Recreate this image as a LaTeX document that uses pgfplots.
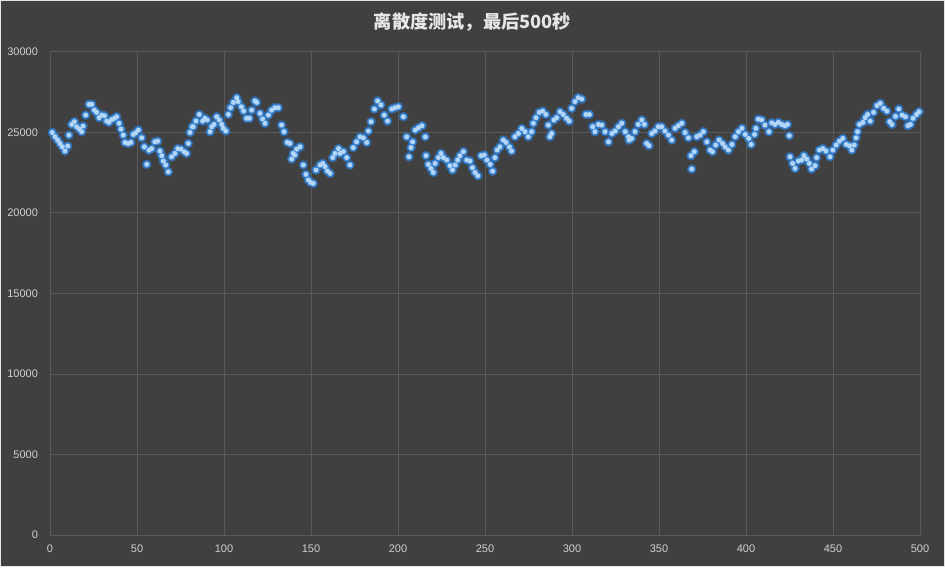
\documentclass[border=0pt]{standalone}
\usepackage{pgfplots}
\pgfplotsset{compat=1.18}
\usepackage{pgfplotstable}
\usepackage{fontspec}
\setmainfont{Liberation Sans}
\newfontfamily\cjk{Noto Sans CJK SC}
\definecolor{bg}{HTML}{404040}
\definecolor{gridc}{HTML}{5A5A5A}
\definecolor{tickc}{HTML}{D0D0D0}
\definecolor{titlec}{HTML}{E6E6E6}
\definecolor{glowout}{HTML}{35659A}
\definecolor{glowin}{HTML}{3A86D6}
\definecolor{core}{HTML}{B4D6F4}
\pgfplotstableread{
x y
1.3 25000
2.9 24740
4.4 24530
5.7 24320
7.1 24110
8.6 23850
10.2 24160
10.9 24840
12.5 25500
14.0 25670
15.3 25360
16.9 25210
18.2 25050
19.0 25400
20.5 26080
22.4 26750
24.0 26750
25.5 26390
26.8 26250
28.2 25920
29.7 26080
31.3 26040
32.6 25710
33.9 25630
35.4 25800
37.0 25880
38.3 25980
39.7 25570
40.8 25210
42.1 24840
43.1 24380
44.9 24320
46.5 24380
47.9 24880
49.2 24980
50.8 25150
52.7 24670
54.2 24110
55.6 23020
56.9 23900
58.4 24000
60.3 24420
61.9 24460
63.2 23850
64.2 23560
65.1 23230
66.5 22980
68.0 22560
69.9 23490
71.8 23700
73.4 24000
75.3 23970
77.2 23800
78.5 23700
79.5 24320
80.5 25000
81.8 25360
82.3 25360
83.9 25710
85.8 26120
87.7 25710
89.0 25880
90.3 25780
92.0 25050
93.0 25360
94.3 25500
95.8 25980
97.3 25780
98.7 25500
99.6 25260
101.1 25090
102.5 26120
103.8 26540
105.4 26870
107.3 27160
108.1 26920
110.0 26600
111.3 26330
113.0 25880
114.6 25880
115.9 26390
117.8 26960
118.8 26870
120.7 26190
122.2 25840
123.6 25570
125.5 26080
127.4 26390
129.3 26540
131.2 26540
133.1 25460
134.5 25050
136.4 24380
137.9 24320
138.9 23350
139.8 23700
140.7 23600
141.8 23970
143.7 24110
145.6 22980
147.1 22400
148.5 22050
149.8 21900
151.3 21840
152.9 22670
155.2 22980
156.7 23080
158.1 22880
159.4 22610
161.0 22460
162.5 23440
163.9 23700
165.8 24000
166.7 23700
168.6 23810
170.5 23440
172.4 22980
174.3 24060
176.2 24420
178.2 24730
180.1 24670
182.0 24380
183.0 25090
184.5 25670
186.4 26460
188.3 26960
190.2 26710
192.1 26080
194.0 25710
196.4 26460
198.3 26540
200.2 26600
203.1 25980
205.0 24730
206.3 23490
207.5 24060
208.4 24420
209.9 25150
211.8 25300
213.8 25420
215.7 24730
216.1 23560
217.4 23020
219.0 22770
220.3 22520
221.3 23080
223.2 23440
224.7 23700
226.1 23440
228.0 23290
229.9 22940
231.3 22670
232.8 22980
234.3 23290
235.6 23560
237.6 23810
239.5 23290
241.4 23230
242.8 22820
244.3 22520
245.9 22310
247.8 23560
249.6 23600
251.1 23290
253.0 23020
254.4 22600
255.7 23440
257.0 23910
258.6 24110
260.5 24530
262.1 24380
264.0 24110
265.3 23850
267.2 24740
269.2 24940
271.1 25250
273.0 25050
274.9 24740
276.8 25050
277.8 25570
279.3 25920
281.2 26250
283.1 26330
285.0 26120
286.4 25460
287.3 24740
288.3 24940
289.6 25780
291.2 25920
293.1 26290
295.0 26120
296.9 25880
298.4 25710
299.8 26500
301.7 26920
303.6 27160
305.6 27080
308.0 26120
310.0 26120
311.9 25360
313.2 25050
315.2 25500
317.1 25460
319.0 25050
321.0 24420
322.9 24940
324.8 25090
326.7 25360
328.6 25570
330.6 25050
332.5 24740
332.8 24530
334.3 24630
336.2 25050
338.1 25500
340.1 25780
341.6 25500
342.9 24320
344.3 24180
345.8 24940
347.7 25090
349.6 25360
351.5 25360
353.4 25090
355.4 24840
357.3 24530
359.2 25260
361.1 25420
363.1 25570
365.0 25000
366.9 24670
368.4 23560
368.8 22730
370.3 23810
371.7 24740
373.6 24840
375.5 25050
377.5 24420
379.4 23910
380.7 23810
382.6 24220
384.5 24530
386.5 24320
388.0 24110
389.9 23910
391.9 24260
393.8 24740
395.7 25050
397.7 25260
399.6 24880
401.5 24630
403.0 24260
404.9 24880
405.7 25260
407.1 25830
409.0 25780
410.9 25460
413.2 25050
414.8 25600
416.7 25500
418.6 25630
420.5 25500
422.4 25420
423.8 25500
424.9 24800
425.3 23490
426.8 23080
428.2 22770
430.1 23230
432.0 23290
433.3 23560
434.9 23350
436.4 23080
437.7 22730
439.7 22940
440.6 23440
442.2 23910
444.1 24000
446.0 23850
448.3 23490
449.9 23910
451.8 24220
453.7 24460
455.6 24630
457.6 24260
459.5 24180
460.8 23910
462.2 24220
463.3 24670
464.1 25050
465.2 25500
467.2 25630
468.5 25920
469.9 26120
471.4 25710
473.3 26250
475.3 26670
477.2 26810
479.1 26500
481.0 26330
482.6 25670
483.9 25500
485.9 26000
487.8 26460
489.7 26080
491.6 25980
493.0 25420
494.5 25500
496.0 25880
498.0 26120
499.5 26290
}\datatable
\begin{document}
\begin{tikzpicture}[x=1pt,y=1pt]
\fill[bg] (0,0) rectangle (472.5,283.5);
\draw[white!80!gray,line width=0.5pt] (0.25,0.25) rectangle (472.25,283.25);
\node[font=\cjk\bfseries\fontsize{9.1}{11}\selectfont,text=titlec] at (236.25,272.5) {离散度测试，最后500秒};
\begin{axis}[
  at={(25pt,16pt)}, anchor=origin,
  scale only axis, width=435pt, height=241.5pt,
  xmin=0, xmax=500, ymin=0, ymax=30000,
  xtick distance=50, ytick distance=5000,
  grid=major, grid style={gridc, line width=0.5pt},
  axis line style={draw=none},
  major tick length=0pt,
  scaled y ticks=false,
  tick label style={font=\fontsize{5.5}{6}\selectfont, text=tickc},
  /pgf/number format/assume math mode=true,
  /pgf/number format/1000 sep={},
  yticklabel style={xshift=-2.5pt},
  xticklabel style={yshift=-1.5pt},
  clip=false,
]
\addplot[glowout, only marks, mark=*, mark size=2.2pt, mark options={solid, fill=glowout, draw=none}] table[x=x,y=y] {\datatable};
\addplot[glowin, only marks, mark=*, mark size=1.6pt, mark options={solid, fill=glowin, draw=none}] table[x=x,y=y] {\datatable};
\addplot[core, only marks, mark=*, mark size=1.0pt, mark options={solid, fill=core, draw=none}] table[x=x,y=y] {\datatable};
\end{axis}
\end{tikzpicture}
\end{document}
